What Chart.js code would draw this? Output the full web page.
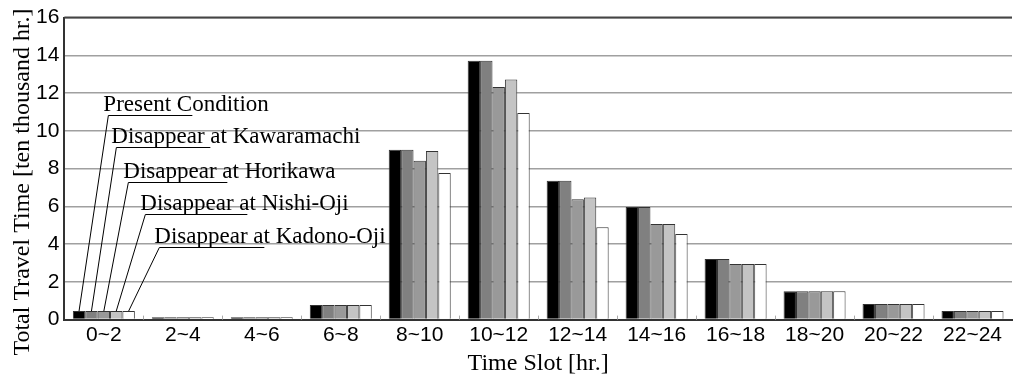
<!DOCTYPE html>
<html>
<head>
<meta charset="utf-8">
<script src="https://cdn.jsdelivr.net/npm/chart.js@4"></script>
<style>
    html, body { margin: 0; padding: 0; background: #fff; }
    #wrap { width: 1015px; height: 376px; }
</style>
</head>
<body>
<div id="wrap"><canvas id="barChart" width="1015" height="376"></canvas></div>
<script>
// time slots on the x axis
const timeSlots = ['0~2', '2~4', '4~6', '6~8', '8~10', '10~12', '12~14', '14~16', '16~18', '18~20', '20~22', '22~24'];

// total travel time [ten thousand hr.] per scenario
const presentCondition = [0.45, 0.12, 0.12, 0.77, 9.0, 13.72, 7.35, 5.96, 3.21, 1.5, 0.82, 0.45];
const kawaramachi      = [0.45, 0.12, 0.12, 0.77, 9.0, 13.72, 7.35, 5.96, 3.21, 1.5, 0.82, 0.45];
const horikawa         = [0.45, 0.12, 0.12, 0.77, 8.42, 12.32, 6.37, 5.07, 2.95, 1.5, 0.82, 0.45];
const nishiOji         = [0.45, 0.12, 0.12, 0.77, 8.93, 12.72, 6.47, 5.07, 2.95, 1.5, 0.82, 0.45];
const kadonoOji        = [0.45, 0.12, 0.12, 0.77, 7.77, 10.95, 4.89, 4.54, 2.95, 1.5, 0.82, 0.45];

const seriesNames = ['Present Condition', 'Disappear at Kawaramachi', 'Disappear at Horikawa', 'Disappear at Nishi-Oji', 'Disappear at Kadono-Oji'];
const seriesColors = ['#000000', '#808080', '#999999', '#c4c4c4', '#ffffff'];

// callout labels: where the underline sits (y in data units, x offset from plot left in px)
const calloutLevels = [10.86, 9.12, 7.28, 5.61, 3.82];
const calloutOffsets = [44, 52, 64, 81, 95];
const calloutLengths = [84, 94, 99, 102, 105];

const yTitle = 'Total Travel Time [ten thousand hr.]';

const serif = '"Liberation Serif", "Times New Roman", serif';
const sans = '"Liberation Sans", Arial, sans-serif';

// draws the leader-line labels over the first group of bars
const calloutPlugin = {
    id: 'callouts',
    afterDatasetsDraw(chart) {
        const ctx = chart.ctx;
        const area = chart.chartArea;
        const yScale = chart.scales.y;
        ctx.save();
        ctx.strokeStyle = '#000';
        ctx.lineWidth = 1;
        ctx.fillStyle = '#000';
        ctx.font = '23px ' + serif;
        ctx.textBaseline = 'alphabetic';
        for (let i = 0; i < seriesNames.length; i++) {
            const bar = chart.getDatasetMeta(i).data[0];
            const ly = Math.round(yScale.getPixelForValue(calloutLevels[i])) + 0.5;
            const lx = area.left + calloutOffsets[i];
            ctx.beginPath();
            ctx.moveTo(bar.x, bar.y);
            ctx.lineTo(lx, ly);
            ctx.lineTo(lx + calloutLengths[i], ly);
            ctx.stroke();
            ctx.fillText(seriesNames[i], lx - 5, ly - 5);
        }
        // little category separators on the x axis
        const xScale = chart.scales.x;
        ctx.strokeStyle = '#aaa';
        for (let i = 1; i < timeSlots.length; i++) {
            const x = Math.round((xScale.getPixelForValue(i - 1) + xScale.getPixelForValue(i)) / 2) + 0.5;
            ctx.beginPath();
            ctx.moveTo(x, area.bottom);
            ctx.lineTo(x, area.bottom - 4);
            ctx.stroke();
        }
        ctx.restore();
    }
};

// y title sits a bit lower than the plot centre in the original, so draw it by hand
const yTitlePlugin = {
    id: 'yTitle',
    afterDraw(chart) {
        const c = chart.ctx;
        c.save();
        c.translate(23, 182);
        c.rotate(-Math.PI / 2);
        c.font = '24px ' + serif;
        c.fillStyle = '#000';
        c.textAlign = 'center';
        c.textBaseline = 'middle';
        c.fillText(yTitle, 0, 0);
        c.restore();
    }
};

function drawBarChart() {
    const ctx = document.getElementById('barChart').getContext('2d');
    const allSeries = [presentCondition, kawaramachi, horikawa, nishiOji, kadonoOji];
    new Chart(ctx, {
        type: 'bar',
        data: {
            labels: timeSlots,
            datasets: allSeries.map((values, i) => ({
                label: seriesNames[i],
                data: values,
                backgroundColor: seriesColors[i],
                borderColor: '#333333',
                borderWidth: 1,
                borderSkipped: 'bottom',
                categoryPercentage: 0.785,
                barPercentage: 1.0
            }))
        },
        options: {
            responsive: false,
            animation: false,
            devicePixelRatio: 1,
            layout: { padding: { left: 31, right: 3, top: 14, bottom: 0 } },
            plugins: {
                legend: { display: false },
                tooltip: { enabled: false }
            },
            scales: {
                x: {
                    grid: { display: false, drawTicks: false },
                    border: { display: true, color: '#333', width: 2 },
                    ticks: { color: '#000', font: { family: sans, size: 21 }, padding: 3 },
                    title: {
                        display: true,
                        text: 'Time Slot [hr.]',
                        color: '#000',
                        font: { family: serif, size: 24, lineHeight: 1.05 },
                        padding: { top: 0, bottom: 0 }
                    }
                },
                y: {
                    min: 0,
                    max: 16,
                    ticks: { stepSize: 2, color: '#000', font: { family: sans, size: 21 }, padding: 5 },
                    grid: { color: '#a0a0a0', lineWidth: 1.5, drawTicks: false },
                    border: { display: true, color: '#333', width: 2 }
                }
            }
        },
        plugins: [calloutPlugin, yTitlePlugin, {
            id: 'topBorder',
            beforeDatasetsDraw(chart) {
                const a = chart.chartArea;
                const c = chart.ctx;
                c.save();
                c.strokeStyle = '#444';
                c.lineWidth = 2;
                c.beginPath();
                c.moveTo(a.left, a.top);
                c.lineTo(a.right, a.top);
                c.stroke();
                c.restore();
            }
        }]
    });
}

drawBarChart();
</script>
</body>
</html>
